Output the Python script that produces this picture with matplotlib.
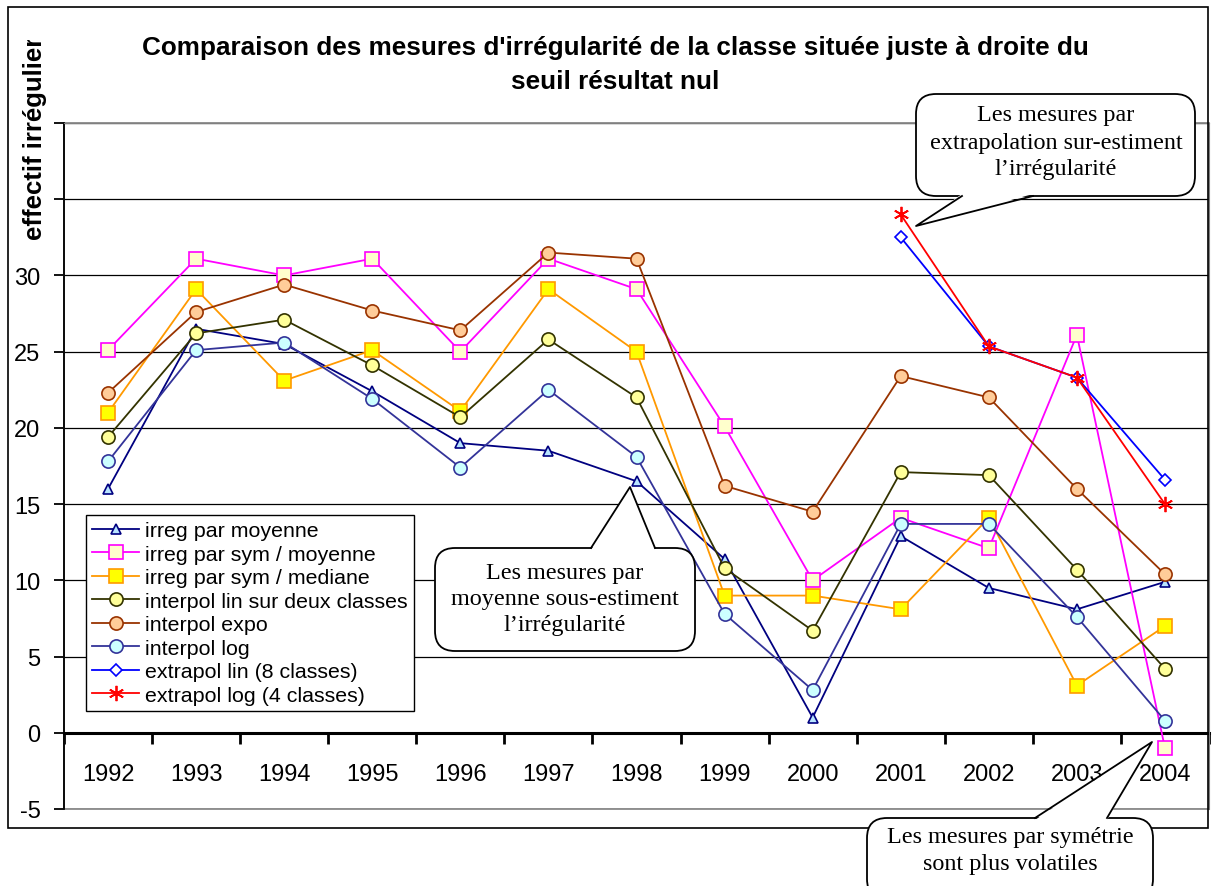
import numpy as np
import matplotlib
matplotlib.use("Agg")
import matplotlib.pyplot as plt
from matplotlib.patches import FancyBboxPatch, Polygon, Rectangle
from matplotlib.lines import Line2D
from matplotlib.transforms import Affine2D, Bbox, TransformedBbox

years = ["1992", "1993", "1994", "1995", "1996", "1997", "1998",
         "1999", "2000", "2001", "2002", "2003", "2004"]

irreg_moyenne = [16.0, 26.5, 25.5, 22.4, 19.0, 18.5, 16.5, 11.4, 1.0, 12.9, 9.5, 8.1, 9.9]
irreg_sym_moyenne = [25.1, 31.1, 30.0, 31.1, 25.0, 31.1, 29.1, 20.1, 10.0, 14.1, 12.1, 26.1, -1.0]
irreg_sym_mediane = [21.0, 29.1, 23.1, 25.1, 21.1, 29.1, 25.0, 9.0, 9.0, 8.1, 14.1, 3.1, 7.0]
interpol_lin = [19.4, 26.2, 27.1, 24.1, 20.7, 25.8, 22.0, 10.8, 6.7, 17.1, 16.9, 10.7, 4.2]
interpol_expo = [22.3, 27.6, 29.4, 27.7, 26.4, 31.5, 31.1, 16.2, 14.5, 23.4, 22.0, 16.0, 10.4]
interpol_log = [17.8, 25.1, 25.6, 21.9, 17.4, 22.5, 18.1, 7.8, 2.8, 13.7, 13.7, 7.6, 0.8]
nan = np.nan
extrapol_lin = [nan] * 9 + [32.5, 25.35, 23.3, 16.6]
extrapol_log = [nan] * 9 + [34.0, 25.35, 23.3, 15.0]

labels = ["irreg par moyenne", "irreg par sym / moyenne", "irreg par sym / mediane",
          "interpol lin sur deux classes", "interpol expo", "interpol log",
          "extrapol lin (8 classes)", "extrapol log (4 classes)"]

W, H, DPI = 1212, 887, 100
plt.rcParams['font.family'] = ['Liberation Sans', 'DejaVu Sans']

fig = plt.figure(figsize=(W / DPI, H / DPI), dpi=DPI)
# pixel coords, y going down
px = Affine2D().scale(1 / DPI, -1 / DPI).translate(0, H / DPI) + fig.dpi_scale_trans

left, right, top, bottom = 64, 1209, 124, 810
ax = fig.add_axes([left / W, 1 - bottom / H, (right - left) / W, (bottom - top) / H])

x = np.arange(len(years))
ax.plot(x, irreg_moyenne, color='#000080', lw=1.3, marker='^', ms=7.5,
        mfc='#b8e4ff', mec='#000080', mew=1.2, label=labels[0], zorder=3)
ax.plot(x, irreg_sym_moyenne, color='#ff00ff', lw=1.3, marker='s', ms=9.5,
        mfc='#ffffcc', mec='#ff00ff', mew=1.2, label=labels[1], zorder=3)
ax.plot(x, irreg_sym_mediane, color='#ff9900', lw=1.3, marker='s', ms=9.5,
        mfc='#ffff00', mec='#ff9900', mew=1.2, label=labels[2], zorder=3)
ax.plot(x, interpol_lin, color='#333300', lw=1.3, marker='o', ms=9.5,
        mfc='#ffff99', mec='#333300', mew=1.2, label=labels[3], zorder=3)
ax.plot(x, interpol_expo, color='#993300', lw=1.3, marker='o', ms=9.5,
        mfc='#ffcc99', mec='#993300', mew=1.2, label=labels[4], zorder=3)
ax.plot(x, interpol_log, color='#333399', lw=1.3, marker='o', ms=9.5,
        mfc='#ccffff', mec='#333399', mew=1.2, label=labels[5], zorder=3)
ax.plot(x, extrapol_lin, color='#0000ff', lw=1.3, marker='D', ms=6.5,
        mfc='white', mec='#0000ff', mew=1.2, label=labels[6], zorder=3)
ax.plot(x, extrapol_log, color='#ff0000', lw=1.3, marker=(6, 2, 0), ms=11,
        mec='#ff0000', mew=1.3, label=labels[7], zorder=3)

ax.set_xlim(-0.5, len(years) - 0.5)
ax.set_ylim(-5, 40)

yt = np.arange(-5, 41, 5)
ax.set_yticks(yt)
ax.set_yticklabels([str(v) if v <= 30 else "" for v in yt])
ax.tick_params(axis='y', direction='out', length=7, width=1.3, pad=10, labelsize=17)
ax.yaxis.grid(True, color='black', lw=0.9)
ax.set_axisbelow(True)

ax.set_xticks(x)
ax.set_xticklabels(years)
ax.set_xticks(np.arange(-0.5, len(years)), minor=True)
ax.tick_params(axis='x', which='major', length=0, pad=21.5, labelsize=17)
ax.tick_params(axis='x', which='minor', direction='out', length=8, width=2)

for s in ['top', 'right']:
    ax.spines[s].set_color('#808080')
ax.spines['left'].set_color('black')
ax.spines['left'].set_linewidth(1.3)
ax.spines['bottom'].set_position(('data', 0))
ax.spines['bottom'].set_linewidth(2.2)
ax.spines['bottom'].set_zorder(2)
ax.add_patch(Rectangle((0, 0), 1, 1, transform=ax.transAxes, fill=False,
                       ec='#808080', lw=1.2, clip_on=False, zorder=1))

# outer chart frame
fig.patches.append(Rectangle((8, 8), 1200, 821, transform=px, fill=False,
                             ec='black', lw=1.2))

fig.text(615 / W, 1 - 48 / H,
         "Comparaison des mesures d'irrégularité de la classe située juste à droite du",
         ha='center', va='center', fontsize=18.8, fontweight='bold')
fig.text(615 / W, 1 - 82 / H, "seuil résultat nul",
         ha='center', va='center', fontsize=18.8, fontweight='bold')

yl = fig.text(35 / W, 1 - 240 / H, "effectif irrégulier", rotation=90,
              ha='center', va='bottom', fontsize=18.5, fontweight='bold')
yl.set_clip_on(True)
yl.set_clip_box(TransformedBbox(Bbox([[0, 41], [100, 300]]), px))

leg = ax.legend(loc='upper left', bbox_to_anchor=(86 / W, 1 - 516 / H),
                bbox_transform=fig.transFigure, fontsize=15.4, frameon=True,
                fancybox=False, edgecolor='black', framealpha=1,
                handlelength=2.2, handletextpad=0.25, labelspacing=0.21,
                borderpad=0.3, borderaxespad=0)
leg.get_frame().set_linewidth(1.0)
leg.set_zorder(5)


def callout(x0, y0, x1, y1, base, tip, lines, line_y, cx):
    box = FancyBboxPatch((x0, y0), x1 - x0, y1 - y0,
                         boxstyle='round,pad=0,rounding_size=20', transform=px,
                         fc='white', ec='black', lw=1.3, zorder=10)
    fig.patches.append(box)
    (ax_, ay), (bx, by) = base
    sgn = 1 if tip[1] > ay else -1
    fig.patches.append(Polygon([(ax_, ay - 2 * sgn), tip, (bx, by - 2 * sgn)],
                               closed=True, transform=px, fc='white', ec='none',
                               zorder=11))
    fig.lines.append(Line2D([ax_, tip[0], bx], [ay, tip[1], by], transform=px,
                            color='black', lw=1.3, zorder=12))
    for t, ty in zip(lines, line_y):
        fig.text(cx / W, 1 - ty / H, t, ha='center', va='center', fontsize=17.4,
                 family=['Liberation Serif', 'DejaVu Serif'], zorder=13)


callout(916, 95, 1195, 197, [(962, 197), (1033, 197)], (916, 227),
        ["Les mesures par", "extrapolation sur-estiment", "l\u2019irrégularité"],
        [116, 143, 170], 1056)
callout(435, 549, 695, 652, [(591, 549), (655, 549)], (630, 488),
        ["Les mesures par", "moyenne sous-estiment", "l\u2019irrégularité"],
        [573, 599, 625], 565)
callout(867, 819, 1153, 900, [(1035, 819), (1107, 819)], (1152, 743),
        ["Les mesures par symétrie", "sont plus volatiles"],
        [838, 865], 1010)

fig.savefig("out.png", dpi=DPI)
